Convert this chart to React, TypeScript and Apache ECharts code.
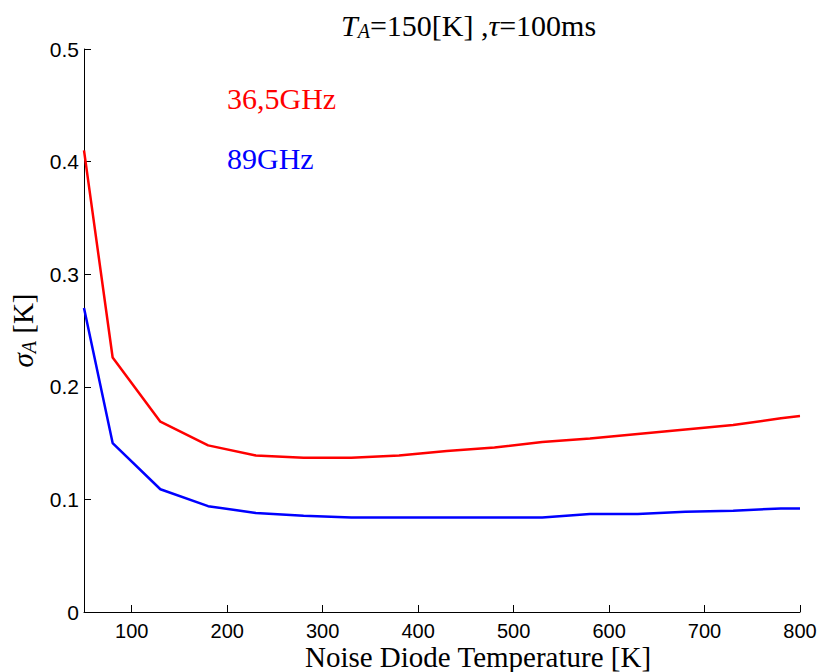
import React, { useEffect, useRef } from "react";
import * as echarts from "echarts";

const xValues = [50, 80, 130, 180, 230, 280, 330, 380, 430, 480, 530, 580, 630, 680, 730, 780, 800];
const red365 = [0.41, 0.226, 0.169, 0.148, 0.139, 0.137, 0.137, 0.139, 0.143, 0.146, 0.151, 0.154, 0.158, 0.162, 0.166, 0.172, 0.174];
const blue89 = [0.27, 0.15, 0.109, 0.094, 0.088, 0.0855, 0.084, 0.084, 0.084, 0.084, 0.084, 0.087, 0.087, 0.089, 0.09, 0.092, 0.092];
const xTicks = [100, 200, 300, 400, 500, 600, 700, 800];
const seriesNames = ["36,5GHz", "89GHz"];
const xAxisTitle = "Noise Diode Temperature [K]";

const serif = "'Liberation Serif', 'DejaVu Serif', serif";
const sans = "'Liberation Sans', Arial, sans-serif";

export default function App() {
  const ref = useRef<HTMLDivElement>(null);
  useEffect(() => {
    if (!ref.current) return;
    const chart = echarts.init(ref.current, null, { renderer: "svg" });
    chart.setOption({
      animation: false,
      backgroundColor: "#ffffff",
      title: {
        text: "{i|T}{sub|A}=150[K] ,{i|τ}=100ms",
        left: 336,
        top: 4,
        textStyle: {
          fontFamily: serif,
          fontSize: 30,
          fontWeight: "normal",
          color: "#000",
          rich: {
            i: { fontFamily: serif, fontSize: 30, fontStyle: "italic", color: "#000" },
            sub: { fontFamily: serif, fontSize: 20, fontStyle: "italic", color: "#000", padding: [12, 0, 0, 0] },
          },
        },
      },
      grid: { left: 84, right: 21, top: 49, bottom: 60, containLabel: false, outerBoundsMode: "none" },
      xAxis: {
        type: "value",
        min: 50,
        max: 800,
        axisLine: { show: true, lineStyle: { color: "#000", width: 1 } },
        axisTick: { show: true, inside: true, length: 7, customValues: xTicks, lineStyle: { color: "#000" } },
        axisLabel: { customValues: xTicks, fontFamily: sans, fontSize: 20, lineHeight: 20, color: "#000", margin: 9 },
        splitLine: { show: false },
      },
      yAxis: {
        type: "value",
        min: 0,
        max: 0.5,
        interval: 0.1,
        name: "{s|σ}{sub|A} [K]",
        nameLocation: "middle",
        nameGap: 42,
        nameRotate: 90,
        nameTextStyle: {
          fontFamily: serif,
          fontSize: 29,
          color: "#000",
          rich: {
            s: { fontFamily: serif, fontSize: 29, fontStyle: "italic", color: "#000" },
            sub: { fontFamily: serif, fontSize: 20, fontStyle: "italic", color: "#000", padding: [12, 0, 0, 0] },
          },
        },
        axisLine: { show: true, lineStyle: { color: "#000", width: 1 } },
        axisTick: { show: true, inside: true, length: 7, lineStyle: { color: "#000" } },
        axisLabel: { fontFamily: sans, fontSize: 21, color: "#000", margin: 5 },
        splitLine: { show: false },
      },
      graphic: [
        { type: "text", left: 227, top: 83, style: { text: seriesNames[0], fill: "#ff0000", font: `30px ${serif}` } },
        { type: "text", left: 227, top: 143, style: { text: seriesNames[1], fill: "#0000ff", font: `30px ${serif}` } },
        { type: "text", x: 478, y: 657, style: { text: xAxisTitle, fill: "#000", font: `29px ${serif}`, lineHeight: 24, align: "center", verticalAlign: "middle" } },
      ],
      series: [
        {
          name: seriesNames[0],
          type: "line",
          data: xValues.map((x, i) => [x, red365[i]]),
          showSymbol: false,
          lineStyle: { color: "#ff0000", width: 2.5 },
          itemStyle: { color: "#ff0000" },
        },
        {
          name: seriesNames[1],
          type: "line",
          data: xValues.map((x, i) => [x, blue89[i]]),
          showSymbol: false,
          lineStyle: { color: "#0000ff", width: 2.5 },
          itemStyle: { color: "#0000ff" },
        },
      ],
    });
    return () => chart.dispose();
  }, []);
  return <div ref={ref} style={{ position: "fixed", left: 0, top: 0, width: 821, height: 672 }} />;
}
